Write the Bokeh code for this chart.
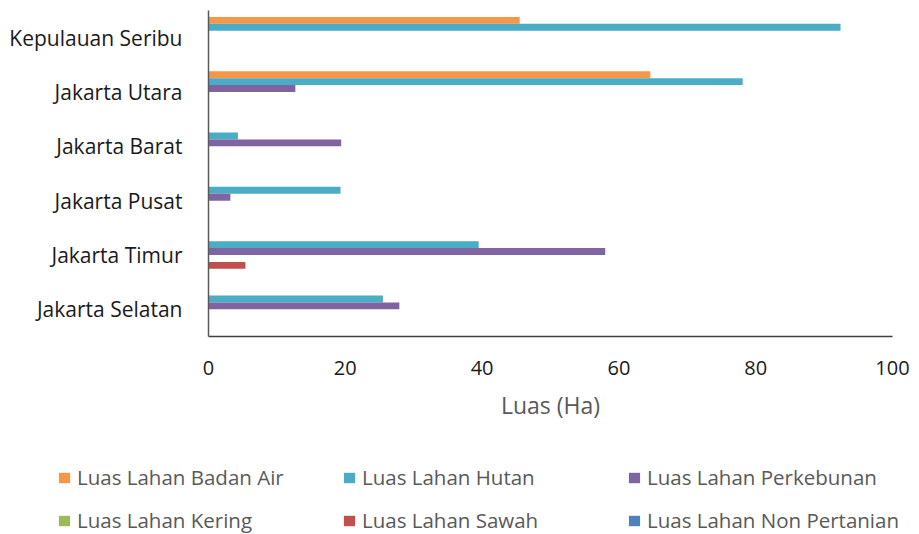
from bokeh.plotting import figure
from bokeh.models import ColumnDataSource, Legend, LegendItem, FactorRange, Range1d, FixedTicker
from bokeh.transform import dodge
from bokeh.embed import file_html
from bokeh.resources import INLINE

categories = ["Jakarta Selatan", "Jakarta Timur", "Jakarta Pusat",
              "Jakarta Barat", "Jakarta Utara", "Kepulauan Seribu"]
badan_air = [0, 0, 0, 0, 64.6, 45.5]
hutan = [25.5, 39.5, 19.3, 4.3, 78.1, 92.4]
perkebunan = [27.9, 58.0, 3.2, 19.4, 12.7, 0]
kering = [0, 0, 0, 0, 0, 0]
sawah = [0, 5.4, 0, 0, 0, 0]
non_pertanian = [0, 0, 0, 0, 0, 0]
x_ticks = [0, 20, 40, 60, 80, 100]

series = [
    ("Luas Lahan Badan Air", "badan_air", "#F79646"),
    ("Luas Lahan Hutan", "hutan", "#4BACC6"),
    ("Luas Lahan Perkebunan", "perkebunan", "#8064A2"),
    ("Luas Lahan Kering", "kering", "#9BBB59"),
    ("Luas Lahan Sawah", "sawah", "#C0504D"),
    ("Luas Lahan Non Pertanian", "non_pertanian", "#4F81BD"),
]

source = ColumnDataSource(dict(cat=categories, badan_air=badan_air, hutan=hutan,
                               perkebunan=perkebunan, kering=kering, sawah=sawah,
                               non_pertanian=non_pertanian))

FONT = "Open Sans"
p = figure(width=919, height=430, y_range=FactorRange(*categories, range_padding=0),
           x_range=Range1d(0, 100), output_backend="svg", toolbar_location=None,
           min_border_left=208, min_border_right=27, min_border_top=10, min_border_bottom=94)
p.outline_line_color = None
p.grid.visible = False

bw = 0.127
for i, (label, col, color) in enumerate(series):
    off = (2.5 - i) * bw
    p.hbar(y=dodge("cat", off, range=p.y_range), right=col, left=0, height=bw,
           source=source, fill_color=color, line_color=None)

p.yaxis.axis_line_color = "#595959"
p.yaxis.axis_line_width = 1.5
p.yaxis.major_tick_line_color = None
p.yaxis.minor_tick_line_color = None
p.yaxis.major_label_standoff = 20
p.yaxis.major_label_text_font = FONT
p.yaxis.major_label_text_font_size = "21px"
p.yaxis.major_label_text_color = "#1a1a1a"

p.xaxis.ticker = FixedTicker(ticks=x_ticks)
p.xaxis.axis_line_color = "#404040"
p.xaxis.axis_line_width = 1.5
p.xaxis.major_tick_line_color = None
p.xaxis.minor_tick_line_color = None
p.xaxis.major_label_standoff = 18
p.xaxis.major_label_text_font = FONT
p.xaxis.major_label_text_font_size = "20px"
p.xaxis.major_label_text_color = "#1a1a1a"
p.xaxis.axis_label = "Luas (Ha)"
p.xaxis.axis_label_text_font = FONT
p.xaxis.axis_label_text_font_size = "23px"
p.xaxis.axis_label_text_font_style = "normal"
p.xaxis.axis_label_text_color = "#595959"
p.xaxis.axis_label_standoff = 11

# legend holder figure (renderers hidden, only used for the legend keys)
lg = figure(width=919, height=104, output_backend="svg", toolbar_location=None,
            y_range=FactorRange(*categories), x_range=Range1d(0, 100),
            min_border_left=0, min_border_right=0, min_border_top=0, min_border_bottom=0)
lg.axis.visible = False
lg.grid.visible = False
lg.outline_line_color = None
items = []
for i, (label, col, color) in enumerate(series):
    r = lg.hbar(y="cat", right=col, left=0, height=bw, source=source,
                fill_color=color, line_color=None, visible=False)
    items.append(LegendItem(label=label, renderers=[r]))

common = dict(glyph_width=14, glyph_height=13, label_standoff=6,
              label_width=240, spacing=25, orientation="horizontal",
              label_text_font=FONT, label_text_font_size="20.5px",
              label_text_color="#595959", border_line_color=None,
              background_fill_alpha=0, padding=0, margin=0,
              inactive_fill_alpha=0)
legend1 = Legend(items=items[:3], location=(57, 43), **common)
legend2 = Legend(items=items[3:], location=(57, 0), **common)
lg.add_layout(legend1, "center")
lg.add_layout(legend2, "center")

open("out.html", "w").write(file_html([p, lg], INLINE))
